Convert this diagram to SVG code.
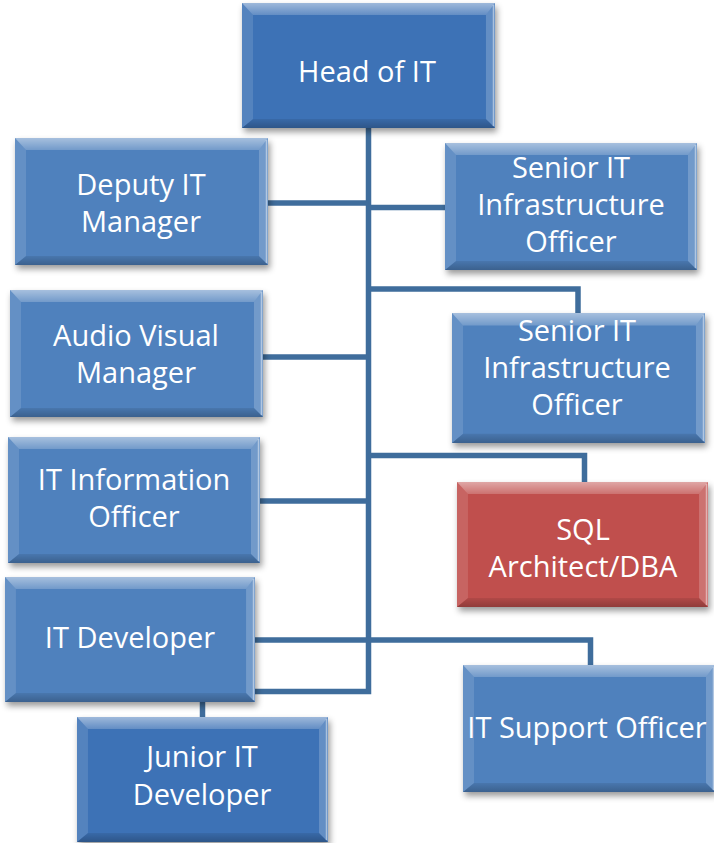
<svg xmlns="http://www.w3.org/2000/svg" xmlns:xlink="http://www.w3.org/1999/xlink" width="714" height="843" viewBox="0 0 714 843">
  <style>
    .conn { fill: none; stroke: #3F6D9C; stroke-width: 5.5; stroke-linejoin: miter; stroke-linecap: butt; }
    .box { filter: url(#shadow); }
    .blue { fill: #4F81BD; }
    .dblue { fill: #3E72B6; }
    .red { fill: #C0504D; }
    .t { font-family: "Open Sans", "Noto Sans", "Liberation Sans", sans-serif; font-size: 29px; fill: #FFFFFF; text-anchor: middle; }
  </style>
  <defs>
    <filter id="shadow" x="-10%" y="-10%" width="125%" height="130%">
      <feDropShadow dx="2" dy="4" stdDeviation="3" flood-color="#000000" flood-opacity="0.4"/>
    </filter>
    <linearGradient id="topg" x1="0" y1="0" x2="0" y2="1">
      <stop offset="0" stop-color="#FFFFFF" stop-opacity="0.5"/>
      <stop offset="1" stop-color="#FFFFFF" stop-opacity="0.2"/>
    </linearGradient>
    <linearGradient id="botg" x1="0" y1="0" x2="0" y2="1">
      <stop offset="0" stop-color="#000000" stop-opacity="0.08"/>
      <stop offset="1" stop-color="#000000" stop-opacity="0.25"/>
    </linearGradient>
    <symbol id="bevel" viewBox="0 0 252 126" preserveAspectRatio="none">
      <polygon points="0,0 252,0 243,12 11,12" fill="url(#topg)"/>
      <polygon points="0,0 11,12 11,117 0,126" fill="#FFFFFF" fill-opacity="0.12"/>
      <polygon points="252,0 252,126 243,117 243,12" fill="#FFFFFF" fill-opacity="0.2"/>
      <polygon points="0,126 11,117 243,117 252,126" fill="url(#botg)"/>
      <line x1="250.5" y1="2" x2="250.5" y2="124" stroke="#FFFFFF" stroke-opacity="0.45" stroke-width="1.5"/>
    </symbol>
  </defs>

  <g id="connectors">
    <path class="conn" d="M368.5 128 V691.5 H255"/>
    <path class="conn" d="M268 203 H368.5"/>
    <path class="conn" d="M368.5 207.5 H445"/>
    <path class="conn" d="M368.5 289 H578 V313"/>
    <path class="conn" d="M263 357 H368.5"/>
    <path class="conn" d="M368.5 455.5 H584.5 V482"/>
    <path class="conn" d="M260 501 H368.5"/>
    <path class="conn" d="M255 640 H590.5 V665"/>
    <path class="conn" d="M202.5 702 V717"/>
  </g>

  <g id="head">
    <rect class="box dblue" x="242" y="3" width="253" height="125"/>
    <use href="#bevel" x="242" y="3" width="253" height="125"/>
    <text class="t" x="367" y="82">Head of IT</text>
  </g>

  <g id="deputy">
    <rect class="box blue" x="15" y="138" width="253" height="127"/>
    <use href="#bevel" x="15" y="138" width="253" height="127"/>
    <text class="t" x="141" y="195">Deputy IT</text>
    <text class="t" x="141" y="232">Manager</text>
  </g>

  <g id="senior1">
    <rect class="box blue" x="445" y="143" width="252" height="127"/>
    <use href="#bevel" x="445" y="143" width="252" height="127"/>
    <text class="t" x="571" y="178">Senior IT</text>
    <text class="t" x="571" y="215">Infrastructure</text>
    <text class="t" x="571" y="252">Officer</text>
  </g>

  <g id="audio">
    <rect class="box blue" x="10" y="290" width="253" height="127"/>
    <use href="#bevel" x="10" y="290" width="253" height="127"/>
    <text class="t" x="136" y="346">Audio Visual</text>
    <text class="t" x="136" y="383">Manager</text>
  </g>

  <g id="senior2">
    <rect class="box blue" x="452" y="313" width="253" height="130"/>
    <use href="#bevel" x="452" y="313" width="253" height="130"/>
    <text class="t" x="577" y="341">Senior IT</text>
    <text class="t" x="577" y="378">Infrastructure</text>
    <text class="t" x="577" y="415">Officer</text>
  </g>

  <g id="itinfo">
    <rect class="box blue" x="8" y="437" width="252" height="126"/>
    <use href="#bevel" x="8" y="437" width="252" height="126"/>
    <text class="t" x="134" y="490">IT Information</text>
    <text class="t" x="134" y="527">Officer</text>
  </g>

  <g id="sql">
    <rect class="box red" x="457" y="482" width="251" height="125"/>
    <use href="#bevel" x="457" y="482" width="251" height="125"/>
    <text class="t" x="583" y="540">SQL</text>
    <text class="t" x="583" y="577">Architect/DBA</text>
  </g>

  <g id="itdev">
    <rect class="box blue" x="5" y="577" width="250" height="125"/>
    <use href="#bevel" x="5" y="577" width="250" height="125"/>
    <text class="t" x="130" y="648">IT Developer</text>
  </g>

  <g id="support">
    <rect class="box blue" x="463" y="665" width="252" height="127"/>
    <use href="#bevel" x="463" y="665" width="252" height="127"/>
    <text class="t" x="587" y="738">IT Support Officer</text>
  </g>

  <g id="junior">
    <rect class="box dblue" x="77" y="717" width="251" height="125"/>
    <use href="#bevel" x="77" y="717" width="251" height="125"/>
    <text class="t" x="202" y="767">Junior IT</text>
    <text class="t" x="202" y="805">Developer</text>
  </g>
</svg>
